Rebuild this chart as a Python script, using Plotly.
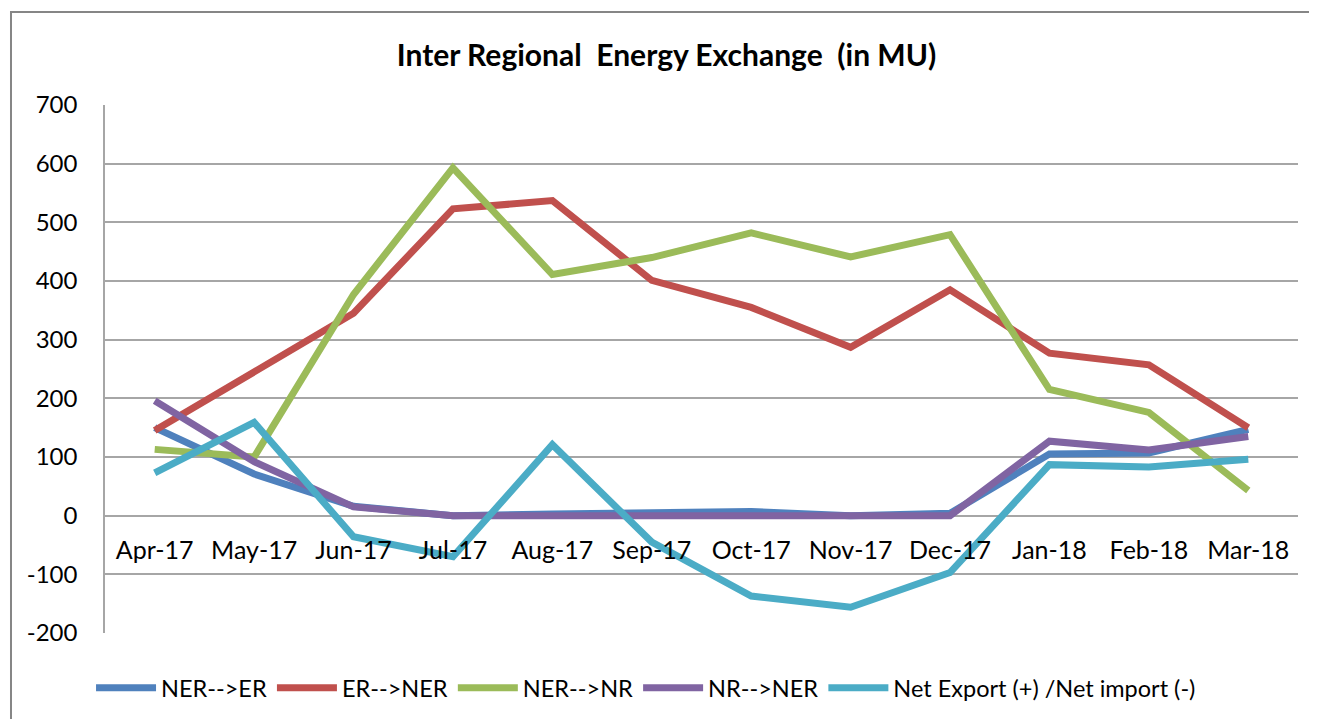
import plotly.graph_objects as go

months = ["Apr-17", "May-17", "Jun-17", "Jul-17", "Aug-17", "Sep-17",
          "Oct-17", "Nov-17", "Dec-17", "Jan-18", "Feb-18", "Mar-18"]

ner_to_er = [150, 71, 16, 0, 3, 5, 7, 0, 4, 105, 107, 147]
er_to_ner = [145, 246, 345, 523, 537, 401, 355, 287, 385, 277, 257, 150]
ner_to_nr = [113, 100, 377, 593, 411, 440, 482, 441, 479, 215, 176, 43]
nr_to_ner = [196, 92, 15, 0, 0, 0, 0, 0, 0, 127, 112, 135]
net_export = [73, 159, -36, -70, 121, -45, -137, -156, -97, 87, 83, 96]

series = [
    ("NER-->ER", ner_to_er, "#4F81BD"),
    ("ER-->NER", er_to_ner, "#C0504D"),
    ("NER-->NR", ner_to_nr, "#9BBB59"),
    ("NR-->NER", nr_to_ner, "#8064A2"),
    ("Net Export (+) /Net import (-)", net_export, "#4BACC6"),
]

y_ticks = [-200, -100, 0, 100, 200, 300, 400, 500, 600, 700]
y_tick_labels = [str(v) for v in y_ticks]

fig = go.Figure()
for name, vals, color in series:
    fig.add_trace(go.Scatter(
        x=months, y=vals, name=name, mode="lines",
        line=dict(color=color, width=7),
    ))

fig.update_layout(
    width=1317, height=719,
    margin=dict(l=97, r=27, t=97, b=94),
    paper_bgcolor="white", plot_bgcolor="white",
    font=dict(family="Lato, sans-serif", color="#000000"),
    title=dict(text="<b>Inter Regional  Energy Exchange  (in MU)</b>",
               x=0.5, xanchor="center", y=0.9346, yanchor="middle",
               font=dict(size=30, family="Lato, sans-serif", color="#000000")),
    showlegend=True,
    legend=dict(orientation="h", x=-0.0117, xanchor="left", y=-0.104, yanchor="middle",
                font=dict(size=23.5, family="Lato, sans-serif"),
                itemwidth=60, tracegroupgap=0, bgcolor="rgba(0,0,0,0)"),
    xaxis=dict(
        type="category", categoryorder="array", categoryarray=months,
        range=[-0.5, 11.5], anchor="free", position=2/9,
        showgrid=False, showline=False, ticks="",
        tickfont=dict(size=25, family="Lato, sans-serif", color="#000000"),
        ticklabelstandoff=17,
    ),
    yaxis=dict(
        range=[-200, 700], tickvals=y_ticks, ticktext=y_tick_labels,
        showgrid=True, gridcolor="#A6A6A6", gridwidth=1.5,
        zeroline=True, zerolinecolor="#A6A6A6", zerolinewidth=1.5,
        showline=True, linecolor="#A6A6A6", linewidth=1.5,
        ticks="", ticklabelstandoff=21,
        tickfont=dict(size=24, family="Lato, sans-serif", color="#000000"),
    ),
)

fig.add_shape(type="rect", xref="paper", yref="paper",
              x0=-0.0788, x1=1.05, y0=-0.3, y1=1.176,
              line=dict(color="#868686", width=2), fillcolor="rgba(0,0,0,0)",
              layer="below")

fig.write_html("out.html")
